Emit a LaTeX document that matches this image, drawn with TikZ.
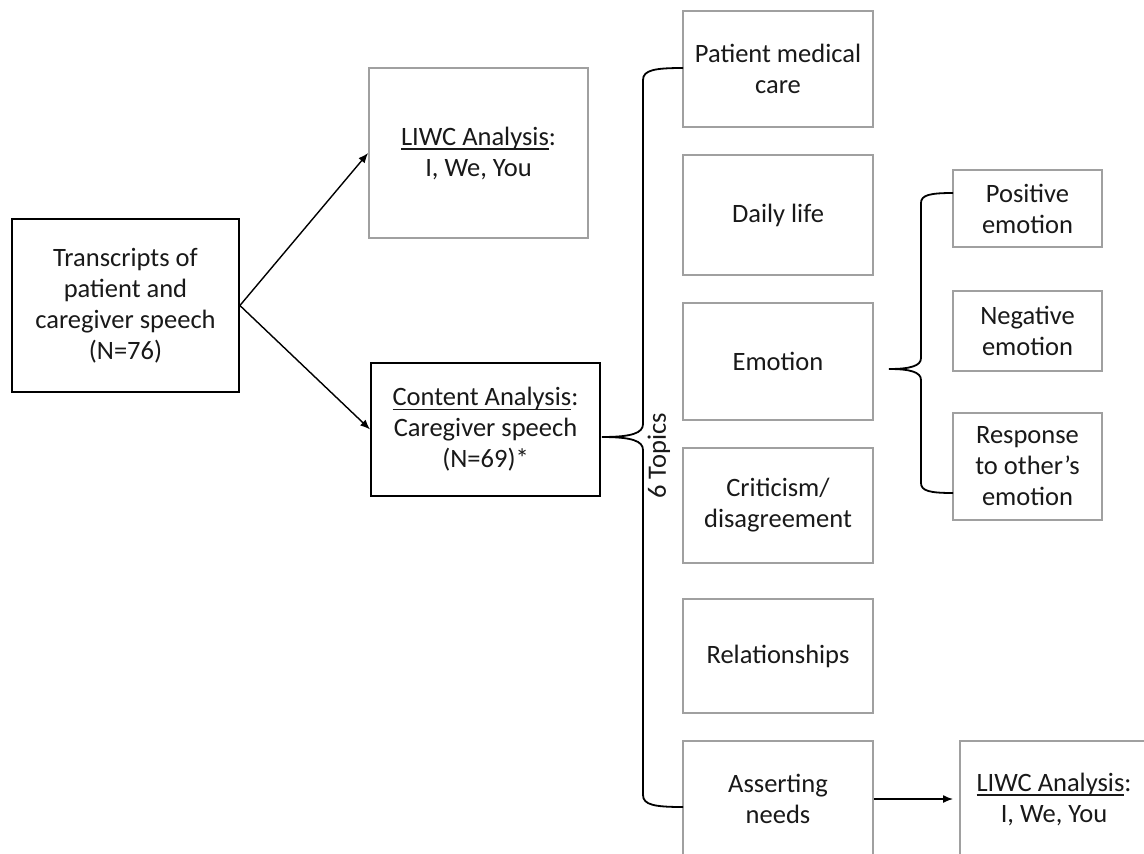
\documentclass[tikz,border=0pt]{standalone}
\usepackage{fontspec}
\setmainfont{Carlito}
\usetikzlibrary{arrows.meta}
\definecolor{boxgray}{RGB}{160,160,160}
\newcommand\myul[1]{\setbox0\hbox{#1}\rlap{\rule[-4.5pt]{\wd0}{1.6pt}}\box0}
\begin{document}
\begin{tikzpicture}[x=1pt,y=-1pt,
  every node/.style={font=\fontsize{26.5}{31}\selectfont, align=center, inner sep=0pt, text=black!90},
  blackbox/.style={draw=black, line width=1.8pt, rectangle},
  graybox/.style={draw=boxgray, line width=1.8pt, rectangle},
  arr/.style={-{Latex[length=10pt,width=8pt]}, line width=1.4pt},
  bracepath/.style={line width=1.8pt}]
\path[use as bounding box] (0,0) rectangle (1144,854);
\clip (0,0) rectangle (1144,854);
\fill[white] (0,0) rectangle (1144,854);

% left column
\node[blackbox, minimum width=227pt, minimum height=173pt] (tr) at (125.5,305.5)
  {Transcripts of\\patient and\\caregiver speech\\(N=76)};
\node[graybox, minimum width=219pt, minimum height=170pt] (liwc1) at (478.5,153)
  {\myul{LIWC Analysis}:\\I, We, You};
\node[blackbox, minimum width=229pt, minimum height=133pt] (ca) at (485.5,429.5)
  {\myul{Content Analysis}:\\Caregiver speech\\(N=69)*};

% six topics
\node[graybox, minimum width=190pt, minimum height=116pt] (t1) at (778,69) {Patient medical\\care};
\node[graybox, minimum width=190pt, minimum height=120pt] (t2) at (778,215) {Daily life};
\node[graybox, minimum width=190pt, minimum height=117pt] (t3) at (778,361.5) {Emotion};
\node[graybox, minimum width=190pt, minimum height=115pt] (t4) at (778,505.5) {Criticism/\\disagreement};
\node[graybox, minimum width=190pt, minimum height=114pt] (t5) at (778,656) {Relationships};
\node[graybox, minimum width=190pt, minimum height=116pt] (t6) at (778,799) {Asserting\\needs};

% emotion sub-boxes
\node[graybox, minimum width=149pt, minimum height=77pt] (e1) at (1027.5,208.5) {Positive\\emotion};
\node[graybox, minimum width=149pt, minimum height=80pt] (e2) at (1027.5,331) {Negative\\emotion};
\node[graybox, minimum width=149pt, minimum height=107pt] (e3) at (1027.5,466.5) {Response\\to other’s\\emotion};

% bottom LIWC
\node[graybox, minimum width=188pt, minimum height=116pt] (liwc2) at (1054,799)
  {\myul{LIWC Analysis}:\\I, We, You};

% arrows
\draw[arr] (tr.east) -- (liwc1.west);
\draw[arr] (tr.east) -- (ca.west);
\coordinate (a2end) at (953,799);
\draw[arr] (t6.east |- a2end) -- (a2end);

% main brace
\coordinate (btip) at (602,437);
\coordinate (btop) at (683,68);
\coordinate (bbot) at (683,807);
\draw[bracepath] (btop) .. controls (655,68) and (643,70) .. (643,80)
  -- (643,424) .. controls (643,433) and (632,437) .. (btip)
  .. controls (632,437) and (643,441) .. (643,450)
  -- (643,795) .. controls (643,805) and (655,807) .. (bbot);
\node[rotate=90] (topics) at (659,456) {6 Topics};

% emotion brace
\coordinate (etip) at (889,369);
\coordinate (etop) at (953,193);
\coordinate (ebot) at (953,493);
\draw[bracepath] (etop) .. controls (930,193) and (921,195) .. (921,203)
  -- (921,358) .. controls (921,366) and (910,369) .. (etip)
  .. controls (910,369) and (921,372) .. (921,380)
  -- (921,483) .. controls (921,491) and (930,493) .. (ebot);
\end{tikzpicture}
\end{document}
